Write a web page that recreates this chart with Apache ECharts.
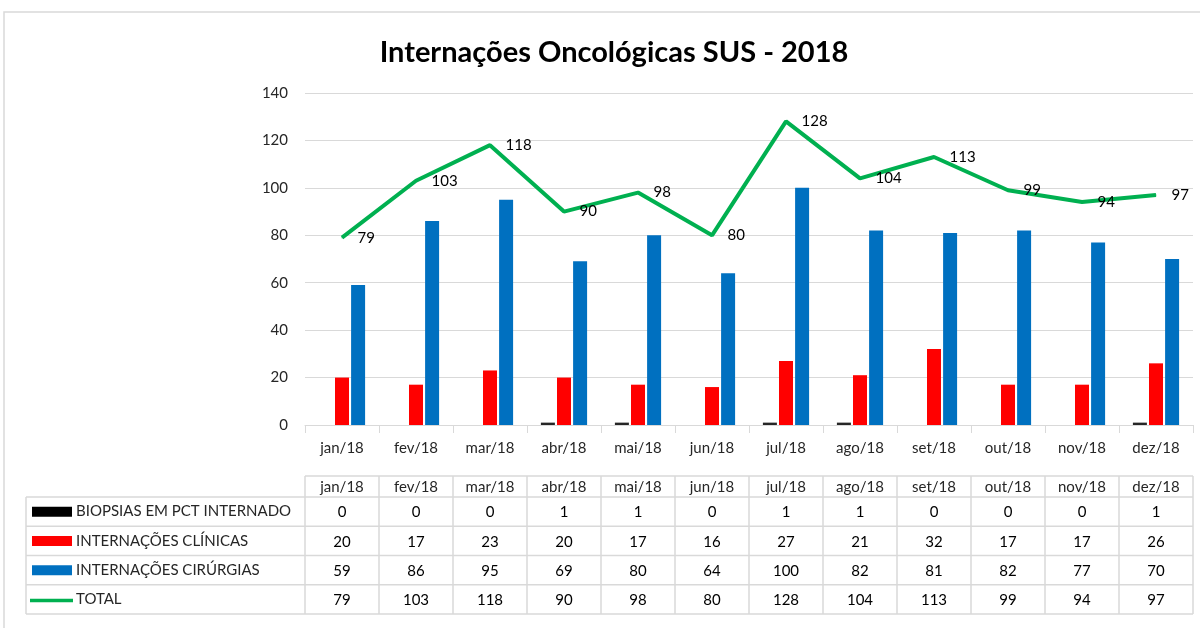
<!DOCTYPE html>
<html>
<head>
<meta charset="utf-8">
<script src="https://cdn.jsdelivr.net/npm/echarts@6/dist/echarts.min.js"></script>
<style>
  html, body { margin: 0; padding: 0; background: #fff; }
  #main { width: 1200px; height: 628px; }
</style>
</head>
<body>
<div id="main"></div>
<script>
// dados
var meses = ['jan/18', 'fev/18', 'mar/18', 'abr/18', 'mai/18', 'jun/18', 'jul/18', 'ago/18', 'set/18', 'out/18', 'nov/18', 'dez/18'];
var biopsias = [0, 0, 0, 1, 1, 0, 1, 1, 0, 0, 0, 1];
var clinicas = [20, 17, 23, 20, 17, 16, 27, 21, 32, 17, 17, 26];
var cirurgias = [59, 86, 95, 69, 80, 64, 100, 82, 81, 82, 77, 70];
var total = [79, 103, 118, 90, 98, 80, 128, 104, 113, 99, 94, 97];
var nomes = ['BIOPSIAS EM PCT INTERNADO', 'INTERNAÇÕES CLÍNICAS', 'INTERNAÇÕES CIRÚRGIAS', 'TOTAL'];
var cores = ['#000000', '#FF0000', '#0070C0', '#00B050'];

var fonte = 'Lato, "Open Sans", sans-serif';
var chart = echarts.init(document.getElementById('main'));

var option = {
  animation: false,
  backgroundColor: '#fff',
  title: {
    text: 'Internações Oncológicas SUS - 2018',
    left: 609,
    top: 33,
    textAlign: 'center',
    textStyle: { fontFamily: fonte, fontSize: 29, fontWeight: 'bold', color: '#000' }
  },
  grid: { left: 305, top: 93, width: 888, height: 332 },
  xAxis: {
    type: 'category',
    data: meses,
    axisLine: { lineStyle: { color: '#d9d9d9' } },
    axisTick: { show: true, length: 8, lineStyle: { color: '#d9d9d9' } }, //marcas entre categorias
    axisLabel: { fontFamily: fonte, fontSize: 15, color: '#262626', margin: 16 }
  },
  yAxis: {
    type: 'value',
    min: 0,
    max: 140,
    interval: 20,
    axisLine: { show: false },
    axisTick: { show: false },
    axisLabel: { fontFamily: fonte, fontSize: 15, color: '#262626', margin: 17 },
    splitLine: { lineStyle: { color: '#d9d9d9' } }
  },
  series: [{
    name: nomes[0],
    type: 'bar',
    barWidth: 14,
    barGap: '15%',
    itemStyle: { color: '#262626' },
    data: biopsias
  },
  {
    name: nomes[1],
    type: 'bar',
    barWidth: 14,
    barGap: '15%',
    itemStyle: { color: cores[1] },
    data: clinicas
  },
  {
    name: nomes[2],
    type: 'bar',
    barWidth: 14,
    barGap: '15%',
    itemStyle: { color: cores[2] },
    data: cirurgias
  },
  {
    name: nomes[3],
    type: 'line',
    symbol: 'circle',
    symbolSize: 1,
    itemStyle: { color: cores[3] },
    lineStyle: { color: cores[3], width: 4 },
    label: {
      show: true,
      position: 'right',
      distance: 15,
      fontFamily: fonte,
      fontSize: 15,
      color: '#000'
    },
    data: total
  }]
};
chart.setOption(option);

// tabela de dados abaixo do grafico
function montaTabela() {
  var p0 = chart.convertToPixel({ xAxisIndex: 0 }, meses[0]);
  var p1 = chart.convertToPixel({ xAxisIndex: 0 }, meses[1]);
  var banda = p1 - p0;
  var xIni = p0 - banda / 2;
  var xFim = xIni + banda * meses.length;
  var xLeg = 26;
  var yTopo = 476, yCab = 497, altLinha = 29.25;
  var linhas = [biopsias, clinicas, cirurgias, total];
  var borda = { stroke: '#d9d9d9', lineWidth: 1.5 };
  var els = [];
  var yBase = yCab + altLinha * linhas.length;

  // linhas horizontais
  els.push({ type: 'line', shape: { x1: xIni, y1: yTopo, x2: xFim, y2: yTopo }, style: borda });
  for (var r = 0; r <= linhas.length; r++) {
    var y = yCab + altLinha * r;
    els.push({ type: 'line', shape: { x1: xLeg, y1: y, x2: xFim, y2: y }, style: borda });
  }
  // linhas verticais
  els.push({ type: 'line', shape: { x1: xLeg, y1: yCab, x2: xLeg, y2: yBase }, style: borda });
  for (var c = 0; c <= meses.length; c++) {
    var x = xIni + banda * c;
    els.push({ type: 'line', shape: { x1: x, y1: yTopo, x2: x, y2: yBase }, style: borda });
  }
  // cabecalho
  meses.forEach(function (m, i) {
    els.push({
      type: 'text',
      style: {
        x: xIni + banda * (i + 0.5), y: (yTopo + yCab) / 2 + 1, text: m,
        align: 'center', verticalAlign: 'middle',
        font: '15px ' + fonte, fill: '#262626'
      }
    });
  });
  // linhas de valores e legenda
  linhas.forEach(function (serie, r) {
    var yc = yCab + altLinha * (r + 0.5);
    if (r < 3) {
      els.push({ type: 'rect', shape: { x: 32, y: yc - 5, width: 40, height: 10 }, style: { fill: cores[r] } });
    } else {
      els.push({ type: 'line', shape: { x1: 30, y1: yc + 1, x2: 73, y2: yc + 1 }, style: { stroke: cores[r], lineWidth: 3.5 } });
    }
    els.push({
      type: 'text',
      style: {
        x: 76, y: yc, text: nomes[r], align: 'left', verticalAlign: 'middle',
        font: '15px ' + fonte, fill: '#262626'
      }
    });
    serie.forEach(function (v, i) {
      els.push({
        type: 'text',
        style: {
          x: xIni + banda * (i + 0.5), y: yc + 1, text: String(v),
          align: 'center', verticalAlign: 'middle',
          font: '15px ' + fonte, fill: '#000'
        }
      });
    });
  });
  // moldura externa do grafico
  els.push({ type: 'rect', shape: { x: 4, y: 12, width: 1210, height: 640 }, style: { fill: 'none', stroke: '#d9d9d9', lineWidth: 1.5 } });

  chart.setOption({ graphic: els });
}
montaTabela();
</script>
</body>
</html>
